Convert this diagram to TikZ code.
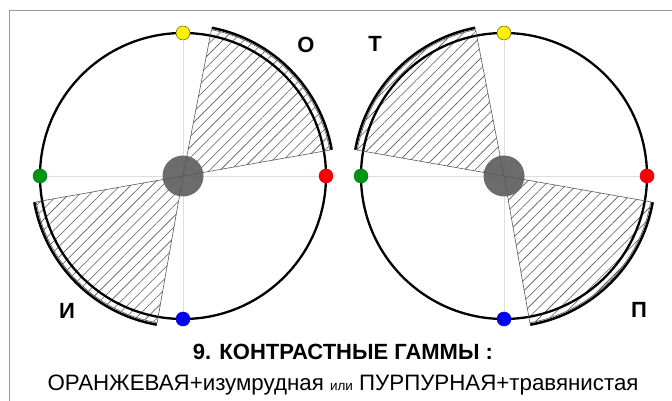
\documentclass[tikz,border=0pt]{standalone}
\usepackage{fontspec}
\setmainfont{Liberation Sans}
\usetikzlibrary{patterns.meta,calc}
\definecolor{dotyellow}{RGB}{255,240,0}
\definecolor{dotgreen}{RGB}{0,150,20}
\definecolor{dotred}{RGB}{250,0,0}
\definecolor{dotblue}{RGB}{0,0,245}
\definecolor{hubgray}{RGB}{100,100,100}
\begin{document}
\begin{tikzpicture}[x=1pt,y=1pt,
  frame/.style={draw=gray!80,line width=1pt},
  cross/.style={draw=black!13,line width=0.8pt},
  hatch/.style={pattern={Lines[angle=45,distance=7.5pt,line width=0.6pt]},pattern color=black!65},
  edge/.style={draw=black!65,line width=0.6pt},
  rim/.style={draw=black,line width=2.3pt},
  outer/.style={draw=black,line width=2.5pt},
  hub/.style={fill=hubgray,opacity=0.95},
  dot/.style={line width=0.5pt},
  letter/.style={font=\fontsize{22}{24}\selectfont\bfseries},
]
\useasboundingbox (0,0) rectangle (672,401);
\draw[frame] (9,0) -- (9,390) -- (672,390);

\newcommand{\drawwheel}[6]{%
  \coordinate (#1) at #2;
  \draw[cross] ($(#1)+(-143,0)$) -- ($(#1)+(143,0)$);
  \draw[cross] ($(#1)+(0,-143)$) -- ($(#1)+(0,143)$);
  \fill[hatch] (#1) -- ++(#3:149) arc[start angle=#3,end angle=#4,radius=149] -- cycle;
  \fill[hatch] (#1) -- ++(#5:149) arc[start angle=#5,end angle=#6,radius=149] -- cycle;
  \draw[edge] (#1) ++(#3:149) arc[start angle=#3,end angle=#4,radius=149];
  \draw[edge] (#1) ++(#5:149) arc[start angle=#5,end angle=#6,radius=149];
  \draw[rim] (#1) circle[radius=143];
  \draw[outer] (#1) ++(#3:151) arc[start angle=#3,end angle=#4,radius=151];
  \draw[outer] (#1) ++(#5:151) arc[start angle=#5,end angle=#6,radius=151];
  \fill[hub] (#1) circle[radius=20.5];
  \draw[edge] (#1) -- ++(#3:149);
  \draw[edge] (#1) -- ++(#4:149);
  \draw[edge] (#1) -- ++(#5:149);
  \draw[edge] (#1) -- ++(#6:149);
  \filldraw[dot,fill=dotyellow,draw=black!60!dotyellow] (#1) ++(90:143) circle[radius=7];
  \filldraw[dot,fill=dotgreen,draw=dotgreen!80!black] (#1) ++(180:143) circle[radius=7];
  \filldraw[dot,fill=dotred,draw=dotred!85!black] (#1) ++(0:143) circle[radius=7];
  \filldraw[dot,fill=dotblue,draw=dotblue!85!black] (#1) ++(270:143) circle[radius=7];
}
\drawwheel{L}{(183,225)}{10}{79}{190}{260}
\drawwheel{R}{(504,225)}{101}{170}{280}{350}

\node[letter] (lo) at (306,356) {О};
\node[letter] (lt) at (375,357) {Т};
\node[letter] (li) at (67,90) {И};
\node[letter] (lp) at (639,91) {П};

\node[font=\fontsize{22}{24}\selectfont\bfseries] (title) at (343,49) {9. КОНТРАСТНЫЕ ГАММЫ :};
\node[font=\fontsize{22.3}{24}\selectfont] (sub) at (343,16)
  {ОРАНЖЕВАЯ+изумрудная {\fontsize{13.5}{14}\selectfont или} ПУРПУРНАЯ+травянистая};
\end{tikzpicture}
\end{document}
